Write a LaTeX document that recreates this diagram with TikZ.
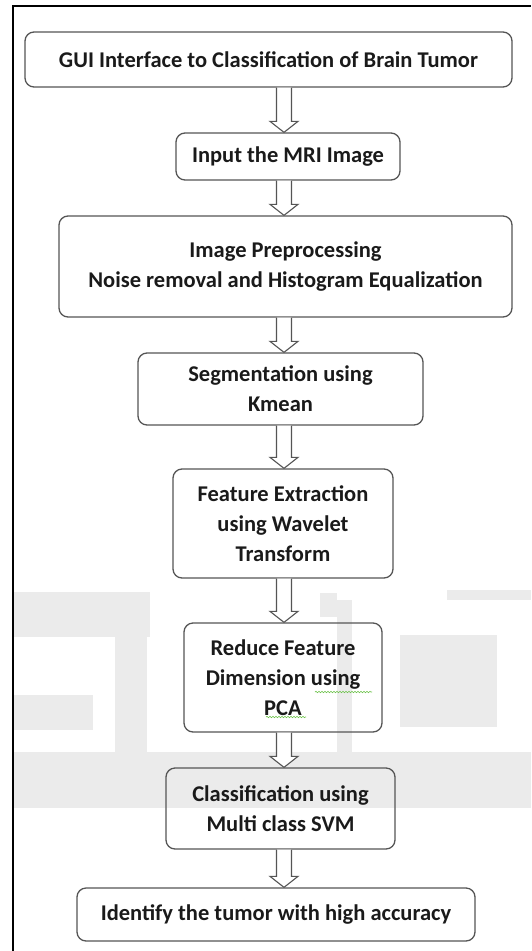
\documentclass[tikz,border=0pt]{standalone}
\usepackage{fontspec}
\setmainfont{Carlito}
\usetikzlibrary{calc,decorations.pathmorphing}

\definecolor{boxline}{HTML}{555555}
\definecolor{txt}{HTML}{1A1A1A}
\definecolor{wmark}{HTML}{EBEBEB}
\definecolor{spell}{HTML}{6CC24A}

\tikzstyle{bS}=[draw=boxline, line width=1.3pt, rounded corners=9pt, inner sep=0pt, align=center, font=\fontsize{22.5}{30}\selectfont\bfseries, text=txt]
\tikzstyle{eA}=[draw=boxline, line width=1.1pt, fill=white, to path={let \p1=(\tikztostart), \p2=(\tikztotarget) in (\x1-7.5pt,\y1) -- (\x1-7.5pt,\y2+11pt) -- (\x1-14pt,\y2+11pt) -- (\x1,\y2) -- (\x1+14pt,\y2+11pt) -- (\x1+7.5pt,\y2+11pt) -- (\x1+7.5pt,\y1)}]
\tikzstyle{wS}=[fill=wmark, draw=none]
\tikzstyle{sS}=[draw=spell, line width=0.6pt, decorate, decoration={snake, amplitude=0.7pt, segment length=3pt}]

\begin{document}
\begin{tikzpicture}[x=1pt, y=-1pt]
    \useasboundingbox (0,0) rectangle (531,951);
    % watermark
    \fill[wS] (13,592) rectangle (150,637);
    \fill[wS] (115,593) rectangle (147,780);
    \fill[wS] (13,695) rectangle (93,730);
    \fill[wS] (320,593) rectangle (337,617);
    \fill[wS] (337,600) rectangle (352,767);
    \fill[wS] (400,635) rectangle (497,727);
    \fill[wS] (447,590) rectangle (531,600);
    \fill[wS] (13,752) rectangle (531,808);
    % frame
    \draw[line width=2pt] (13,951) -- (13,6) -- (531,6);
    \coordinate (ax) at (284,0);

    \draw (268.5,59.5) node[bS, minimum width=487pt, minimum height=55pt] (gui) {GUI Interface to Classification of Brain Tumor};
    \draw (288,156.5) node[bS, minimum width=224pt, minimum height=47pt] (inp) {Input the MRI Image};
    \draw (285.5,266.5) node[bS, minimum width=453pt, minimum height=101pt] (pre) {Image Preprocessing\\Noise removal and Histogram Equalization};
    \draw (280.5,389) node[bS, minimum width=285pt, minimum height=72pt] (seg) {Segmentation using\\Kmean};
    \draw (283,523.5) node[bS, minimum width=220pt, minimum height=109pt] (fea) {Feature Extraction\\using Wavelet\\Transform};
    \draw (283,677.5) node[bS, minimum width=198pt, minimum height=109pt] (pca) {Reduce Feature\\Dimension using\\PCA};
    \draw (280.5,808.5) node[bS, minimum width=229pt, minimum height=81pt] (svm) {Classification using\\Multi class SVM};
    \draw (276,914.5) node[bS, minimum width=398pt, minimum height=53pt] (res) {Identify the tumor with high accuracy};

    % spell-check marks
    \draw[sS] (315,692) -- (372,692);
    \draw[sS] (266,717) -- (306,717);

    \path
        (gui.south -| ax) edge[eA] (inp.north -| ax)
        (inp.south -| ax) edge[eA] (pre.north -| ax)
        (pre.south -| ax) edge[eA] (seg.north -| ax)
        (seg.south -| ax) edge[eA] (fea.north -| ax)
        (fea.south -| ax) edge[eA] (pca.north -| ax)
        (pca.south -| ax) edge[eA] (svm.north -| ax)
        (svm.south -| ax) edge[eA] (res.north -| ax)
    ;
\end{tikzpicture}
\end{document}
